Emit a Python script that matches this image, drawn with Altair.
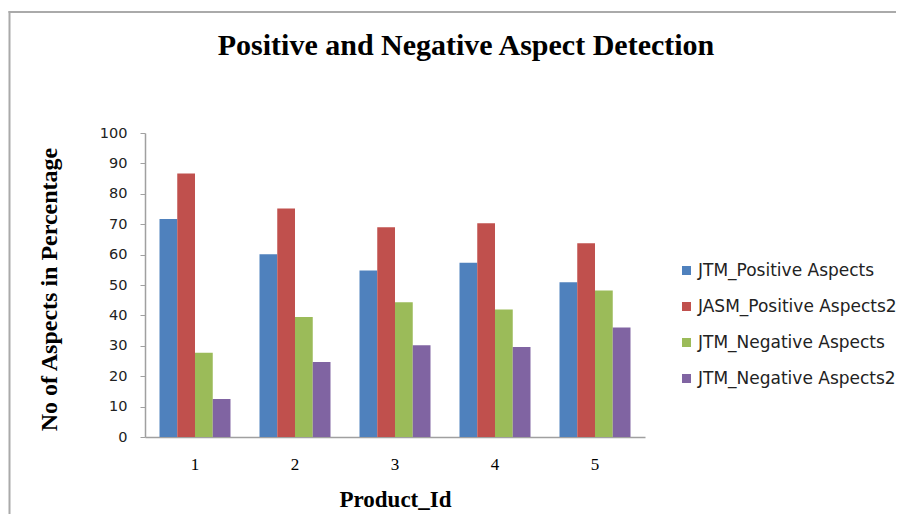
import altair as alt
import pandas as pd

products = ["1", "2", "3", "4", "5"]
series = ["JTM_Positive Aspects", "JASM_Positive Aspects2",
          "JTM_Negative Aspects", "JTM_Negative Aspects2"]
jtm_pos = [71.7, 60.1, 54.8, 57.3, 50.9]
jasm_pos = [86.7, 75.2, 69.0, 70.3, 63.7]
jtm_neg = [27.7, 39.5, 44.3, 41.9, 48.2]
jtm_neg2 = [12.5, 24.7, 30.2, 29.6, 36.0]
colors = ["#4F81BD", "#C0504D", "#9BBB59", "#8064A2"]
y_ticks = list(range(0, 101, 10))

rows = []
for s, vals in zip(series, [jtm_pos, jasm_pos, jtm_neg, jtm_neg2]):
    for p, v in zip(products, vals):
        rows.append({"product": p, "series": s, "value": v})
df = pd.DataFrame(rows)

W, H = 500, 304
PAD_L, PAD_T = 137, 125
PAD_R = 910 - 16 - PAD_L - W - 6
PAD_B = 530 - 16 - PAD_T - H - 8

frame_left = alt.Chart(alt.Data(values=[{}])).mark_rule(
    stroke="#AAAAAA", strokeWidth=2
).encode(x=alt.value(-135.5), y=alt.value(-122), y2=alt.value(H + 100))

frame_top = alt.Chart(alt.Data(values=[{}])).mark_rule(
    stroke="#AAAAAA", strokeWidth=2
).encode(x=alt.value(-136.5), x2=alt.value(W + PAD_R), y=alt.value(-121))

bars = alt.Chart(df).mark_bar().encode(
    x=alt.X("product:O", sort=products,
            scale=alt.Scale(paddingInner=0.29, paddingOuter=0.145),
            axis=alt.Axis(title="Product_Id", labelAngle=0, ticks=False,
                          labelPadding=19, labelFont="Liberation Serif",
                          labelFontSize=17, labelColor="#000",
                          domainColor="#A0A0A0", domainWidth=1.5,
                          titleFont="Liberation Serif", titleFontSize=23,
                          titleFontWeight="bold", titleColor="#000",
                          titleY=69, titleBaseline="alphabetic")),
    xOffset=alt.XOffset("series:N", sort=series,
                        scale=alt.Scale(paddingInner=0, paddingOuter=0)),
    y=alt.Y("value:Q", scale=alt.Scale(domain=[0, 100], nice=False),
            axis=alt.Axis(title="No of Aspects in Percentage", values=y_ticks,
                          grid=False, tickSize=5, tickColor="#A0A0A0",
                          domainColor="#A0A0A0", domainWidth=1.5,
                          labelPadding=13, labelFont="DejaVu Sans",
                          labelFontSize=14.5, labelColor="#222",
                          titleFont="Liberation Serif", titleFontSize=24,
                          titleFontWeight="bold", titleColor="#000",
                          titleAngle=270, titleX=-89, titleY=H / 2 + 4,
                          titleBaseline="alphabetic", titleAlign="center")),
    color=alt.Color("series:N", sort=series,
                    scale=alt.Scale(domain=series, range=colors),
                    legend=alt.Legend(title=None, orient="none",
                                      legendX=533, legendY=129,
                                      symbolType="square", symbolSize=81,
                                      symbolStrokeWidth=0,
                                      labelFont="DejaVu Sans", labelFontSize=17,
                                      labelLimit=300,
                                      labelColor="#222", rowPadding=18,
                                      labelOffset=3))
)

chart = alt.layer(frame_left, frame_top, bars).properties(
    width=W, height=H,
    autosize=alt.AutoSizeParams(type="none"),
    padding={"left": PAD_L, "top": PAD_T, "right": PAD_R, "bottom": PAD_B},
    title=alt.TitleParams("Positive and Negative Aspect Detection",
                          font="Liberation Serif", fontSize=30,
                          fontWeight="bold", color="#000",
                          anchor="middle", frame="group", dx=71,
                          offset=-75, baseline="alphabetic")
).configure_view(strokeWidth=0)

chart.save("out.html", embed_options={"renderer": "svg", "actions": False})
